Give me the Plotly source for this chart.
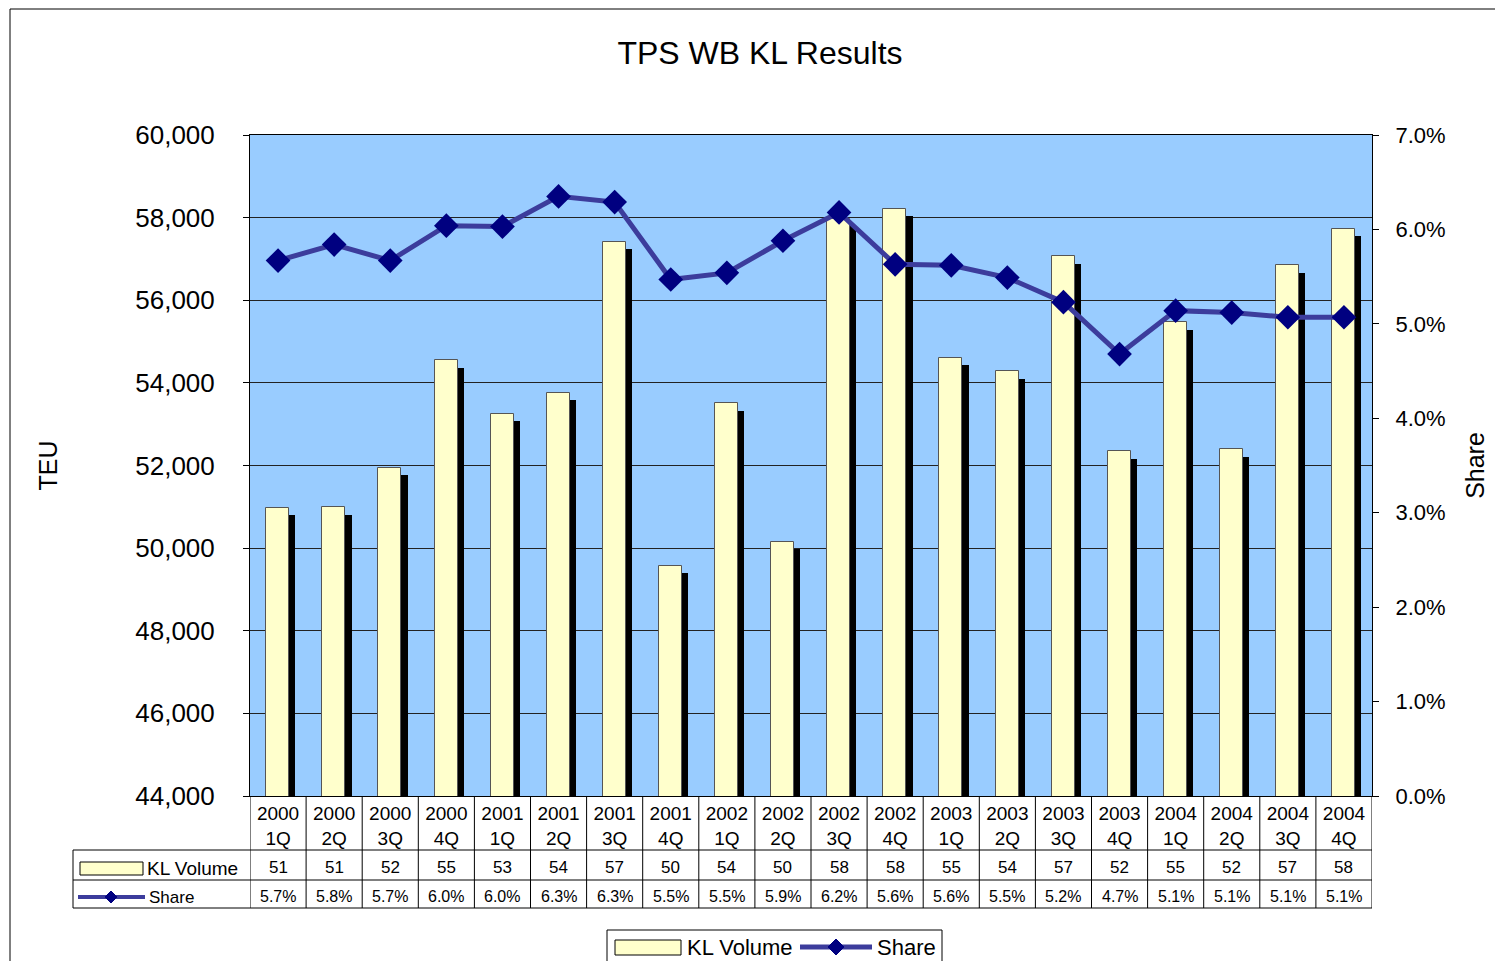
import plotly.graph_objects as go

quarters = ["2000<br>1Q", "2000<br>2Q", "2000<br>3Q", "2000<br>4Q",
            "2001<br>1Q", "2001<br>2Q", "2001<br>3Q", "2001<br>4Q",
            "2002<br>1Q", "2002<br>2Q", "2002<br>3Q", "2002<br>4Q",
            "2003<br>1Q", "2003<br>2Q", "2003<br>3Q", "2003<br>4Q",
            "2004<br>1Q", "2004<br>2Q", "2004<br>3Q", "2004<br>4Q"]
kl_volume = [50970, 50990, 51940, 54550, 53250, 53760, 57410, 49570, 53510, 50150,
             57970, 58220, 54610, 54280, 57060, 52340, 55470, 52390, 56850, 57730]
share = [0.0567, 0.0584, 0.0567, 0.0604, 0.0603, 0.0635, 0.0629, 0.0547, 0.0554, 0.0588,
         0.0618, 0.0563, 0.0562, 0.0549, 0.0523, 0.0468, 0.0514, 0.0512, 0.0507, 0.0507]

FONT = "Liberation Sans"
x = list(range(len(quarters)))
shadow = [v - 180 for v in kl_volume]

# page has an 8px body margin; plot area sits at window px (250..1372, 135..796)
W, H = 1495, 953
OFF = 8

fig = go.Figure()
fig.add_trace(go.Bar(x=x, y=shadow, width=0.41, offset=-0.10,
                     marker=dict(color="black", line=dict(width=0)),
                     showlegend=False, hoverinfo="skip"))
fig.add_trace(go.Bar(x=x, y=kl_volume, width=0.41, offset=-0.21, name="KL Volume",
                     marker=dict(color="#FFFFCC", line=dict(color="#555555", width=1))))
fig.add_trace(go.Scatter(x=x, y=share, yaxis="y2", name="Share", mode="lines+markers",
                         line=dict(color="#3C3C9C", width=5),
                         marker=dict(symbol="diamond", size=19, color="#000080")))


def py(px):
    return (796 - px) / 661.0


def pxx(px):
    return (px - 250) / 1122.0


def diamond(cx, cy, r):
    return (f"M {pxx(cx-r)} {py(cy)} L {pxx(cx)} {py(cy-r)} L {pxx(cx+r)} {py(cy)} "
            f"L {pxx(cx)} {py(cy+r)} Z")


shapes = []
line_c = "#000000"
# outer chart border
shapes.append(dict(type="rect", xref="paper", yref="paper", x0=pxx(10), x1=pxx(1600),
                   y0=py(1050), y1=py(9), line=dict(color="#000000", width=1)))
# table vertical separators
for k in range(len(quarters) + 1):
    shapes.append(dict(type="line", xref="x", yref="paper", x0=k - 0.5, x1=k - 0.5,
                       y0=py(796), y1=py(908), line=dict(color=line_c, width=1)))
for yy in (850, 880, 908):
    shapes.append(dict(type="line", xref="paper", yref="paper", x0=pxx(73), x1=1,
                       y0=py(yy), y1=py(yy), line=dict(color=line_c, width=1)))
shapes.append(dict(type="line", xref="paper", yref="paper", x0=pxx(73), x1=pxx(73),
                   y0=py(850), y1=py(908), line=dict(color=line_c, width=1)))
# legend keys in table
shapes.append(dict(type="rect", xref="paper", yref="paper", x0=pxx(80), x1=pxx(143),
                   y0=py(875), y1=py(862), fillcolor="#FFFFCC",
                   line=dict(color="#000000", width=1)))
shapes.append(dict(type="line", xref="paper", yref="paper", x0=pxx(78), x1=pxx(145),
                   y0=py(897), y1=py(897), line=dict(color="#3C3C9C", width=4)))
shapes.append(dict(type="path", xref="paper", yref="paper", path=diamond(111, 897, 6),
                   fillcolor="#000080", line=dict(color="#000080", width=1)))
# bottom legend box
shapes.append(dict(type="rect", xref="paper", yref="paper", x0=pxx(607), x1=pxx(942),
                   y0=py(1000), y1=py(930), fillcolor="white",
                   line=dict(color="#000000", width=1)))
shapes.append(dict(type="rect", xref="paper", yref="paper", x0=pxx(615), x1=pxx(681),
                   y0=py(955), y1=py(940), fillcolor="#FFFFCC",
                   line=dict(color="#000000", width=1)))
shapes.append(dict(type="line", xref="paper", yref="paper", x0=pxx(800), x1=pxx(872),
                   y0=py(947), y1=py(947), line=dict(color="#3C3C9C", width=5)))
shapes.append(dict(type="path", xref="paper", yref="paper", path=diamond(836, 947, 8),
                   fillcolor="#000080", line=dict(color="#000080", width=1)))

annotations = []


def label(text, xx, yy, size, anchor="left"):
    annotations.append(dict(text=text, xref="paper", yref="paper", x=pxx(xx), y=py(yy),
                            xanchor=anchor, yanchor="middle", showarrow=False,
                            font=dict(family=FONT, size=size, color="black")))


label("KL Volume", 145, 868, 19)
label("Share", 147, 897, 17)
label("KL Volume", 685, 947, 22)
label("Share", 875, 947, 22)

for k in x:
    annotations.append(dict(text=f"{round(kl_volume[k] / 1000)}", xref="x", yref="paper",
                            x=k, y=py(867), xanchor="center", yanchor="middle", showarrow=False,
                            font=dict(family=FONT, size=17, color="black")))
    annotations.append(dict(text=f"{share[k]*100:.1f}%", xref="x", yref="paper",
                            x=k, y=py(896), xanchor="center", yanchor="middle", showarrow=False,
                            font=dict(family=FONT, size=16, color="black")))

fig.update_layout(
    width=W, height=H,
    margin=dict(l=250 - OFF, r=OFF + W - 1372, t=135 - OFF, b=OFF + H - 796),
    paper_bgcolor="white", plot_bgcolor="#99CCFF",
    font=dict(family=FONT, color="black"),
    title=dict(text="TPS WB KL Results", x=(760 - OFF) / W, xanchor="center",
               y=1 - (53 - OFF) / H, yanchor="middle",
               font=dict(family=FONT, size=32, color="black")),
    barmode="overlay", bargap=0,
    showlegend=False,
    xaxis=dict(range=[-0.5, 19.5], tickmode="array", tickvals=x, ticktext=quarters,
               showgrid=False, showline=True, linecolor="black", mirror=True,
               ticks="", tickfont=dict(family=FONT, size=19, color="black"), zeroline=False),
    yaxis=dict(range=[44000, 60000], dtick=2000, tickformat=",", showgrid=True,
               gridcolor="#222222", gridwidth=1, showline=True, linecolor="black",
               ticks="outside", ticklen=6, tickcolor="black", ticklabelstandoff=23,
               tickfont=dict(family=FONT, size=26, color="black"),
               title=dict(text="TEU", font=dict(family=FONT, size=25, color="black"), standoff=70),
               zeroline=False),
    yaxis2=dict(range=[0, 0.07], dtick=0.01, tickformat=".1%", overlaying="y", side="right",
                showgrid=False, showline=True, linecolor="black", ticks="outside", ticklen=6,
                tickcolor="black", ticklabelstandoff=12,
                tickfont=dict(family=FONT, size=22, color="black"),
                title=dict(text="Share", font=dict(family=FONT, size=25, color="black"), standoff=21),
                zeroline=False),
    shapes=shapes, annotations=annotations,
)

fig.write_html("out.html")
